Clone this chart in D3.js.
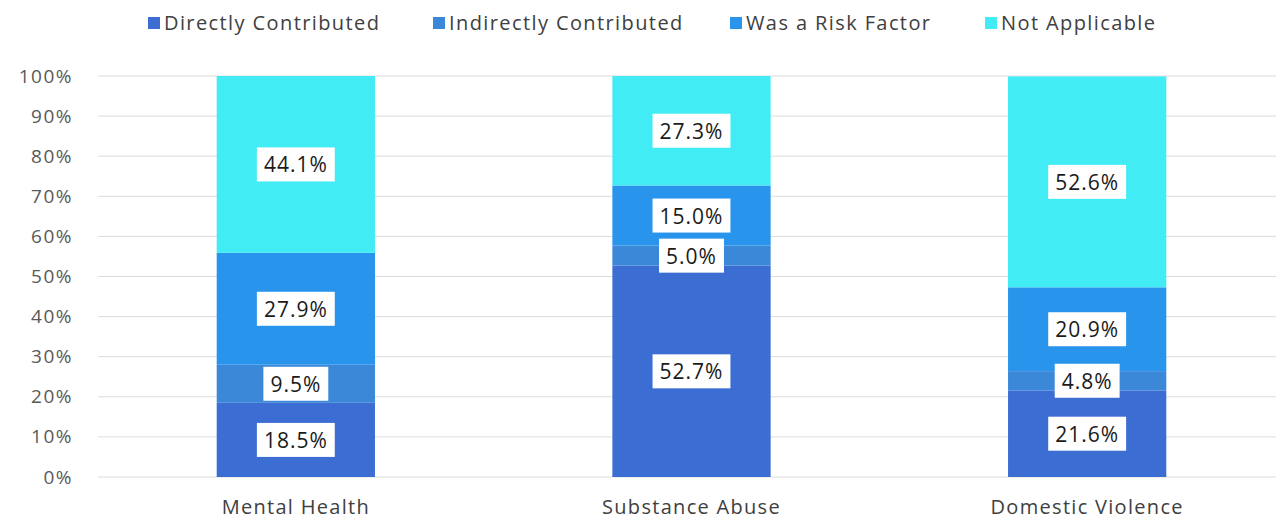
<html>
<head>
<script src="https://d3js.org/d3.v7.min.js"></script>
<style>
  body { margin: 0; background: #fff; }
  svg { font-family: "Open Sans", "Liberation Sans", sans-serif; }
</style>
</head>
<body>
<svg id="svg" width="1281" height="527"></svg>
<script>
var categories = ["Mental Health", "Substance Abuse", "Domestic Violence"];
var seriesNames = ["Directly Contributed", "Indirectly Contributed", "Was a Risk Factor", "Not Applicable"];
var directly = [18.5, 52.7, 21.6];
var indirectly = [9.5, 5.0, 4.8];
var riskFactor = [27.9, 15.0, 20.9];
var notApplicable = [44.1, 27.3, 52.6];
var yTicks = [0, 10, 20, 30, 40, 50, 60, 70, 80, 90, 100];
var colors = ["#3b6dd3", "#3c88d8", "#2894ec", "#42ecf5"];

var svg = d3.select("svg");
var margin = {left: 98, right: 0, top: 76, bottom: 50};
var width = 1281, height = 527;

var rows = categories.map(function(c, i) {
    return {cat: c, s0: directly[i], s1: indirectly[i], s2: riskFactor[i], s3: notApplicable[i]};
});
var stack = d3.stack().keys(["s0", "s1", "s2", "s3"]);
var layers = stack(rows);

var x = d3.scaleBand().domain(categories).range([margin.left, 1285]).paddingInner(0.6).paddingOuter(0.3);
var y = d3.scaleLinear().domain([0, 100]).range([height - margin.bottom, margin.top]);

// gridlines
svg.append("g").selectAll("line").data(yTicks).join("line")
    .attr("x1", margin.left).attr("x2", 1276)
    .attr("y1", d => y(d)).attr("y2", d => y(d))
    .attr("stroke", "#dcdcdc").attr("stroke-width", 1);

// y axis labels
var yAxis = d3.axisLeft(y).tickValues(yTicks).tickFormat(d => d + "%").tickSize(0).tickPadding(0);
var ya = svg.append("g").attr("transform", "translate(73,0)").call(yAxis);
ya.select(".domain").remove();
ya.selectAll("text").attr("font-size", 19).attr("letter-spacing", 1.5).attr("fill", "#595959")
    .attr("font-family", "Open Sans, sans-serif");

// x axis labels
var xAxis = d3.axisBottom(x).tickSize(0).tickPadding(0);
var xa = svg.append("g").attr("transform", "translate(0," + (height - 27) + ")").call(xAxis);
xa.select(".domain").remove();
xa.selectAll("text").attr("font-size", 20).attr("letter-spacing", 1.3).attr("fill", "#404040")
    .attr("font-family", "Open Sans, sans-serif");

// bars
var g = svg.append("g");
layers.forEach(function(layer, li) {
    g.selectAll(".bar" + li).data(layer).join("rect")
        .attr("x", d => x(d.data.cat))
        .attr("width", x.bandwidth())
        .attr("y", d => y(d[1]))
        .attr("height", d => y(d[0]) - y(d[1]))
        .attr("fill", colors[li]);
});

// data labels
layers.forEach(function(layer, li) {
    layer.forEach(function(d) {
        var v = d[1] - d[0];
        var cx = x(d.data.cat) + x.bandwidth() / 2;
        var cy = (y(d[0]) + y(d[1])) / 2;
        var txt = v.toFixed(1) + "%";
        var lg = g.append("g");
        var t = lg.append("text").attr("x", cx).attr("y", cy + 8)
            .attr("text-anchor", "middle").attr("font-size", 21).attr("letter-spacing", 1)
            .attr("fill", "#1a1a1a").text(txt);
        var bb = t.node().getBBox();
        lg.insert("rect", "text")
            .attr("x", bb.x - 7).attr("y", cy - 17)
            .attr("width", bb.width + 14).attr("height", 34)
            .attr("fill", "#fff");
    });
});

// legend
var legendX = [148, 433, 730, 985];
var lg = svg.append("g");
seriesNames.forEach(function(n, i) {
    lg.append("rect").attr("x", legendX[i]).attr("y", 17).attr("width", 12).attr("height", 12).attr("fill", colors[i]);
    lg.append("text").attr("x", legendX[i] + 16).attr("y", 30)
        .attr("font-size", 20).attr("letter-spacing", 1.4).attr("fill", "#404040").text(n);
});
</script>
</body>
</html>
